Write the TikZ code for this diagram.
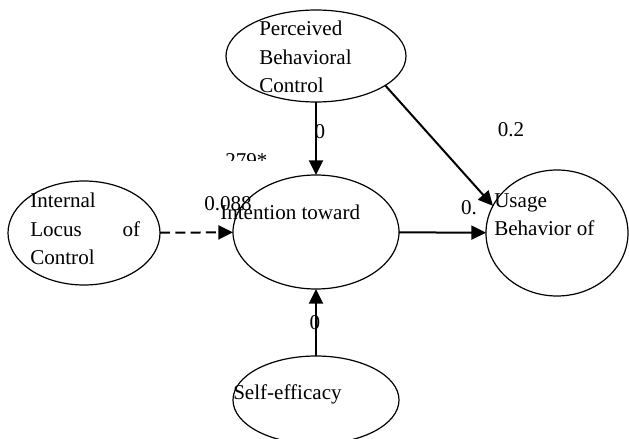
\documentclass[tikz,border=0pt]{standalone}
\usepackage{fontspec}
\setmainfont{Liberation Serif}
\usetikzlibrary{shapes.geometric,arrows.meta}
\tikzset{
  construct/.style={draw,ellipse,line width=0.9pt,inner sep=0pt,outer sep=0pt},
  label text/.style={inner sep=0pt,align=left},
  coef/.style={inner sep=0pt},
  effect/.style={line width=1.5pt,-{Triangle[length=11pt,width=10.5pt]}},
}
\begin{document}
\begin{tikzpicture}[x=0.75pt,y=-0.75pt,
    every node/.style={font=\fontsize{15.8}{21.4}\selectfont}]
  \useasboundingbox (0,0) rectangle (629,439);
  % constructs
  \node[construct,minimum width=135pt,minimum height=69pt] (pbc) at (316,56) {};
  \node[construct,minimum width=124.5pt,minimum height=85.5pt] (intent) at (316,232) {};
  \node[construct,minimum width=114pt,minimum height=78pt] (locus) at (84,233) {};
  \node[construct,minimum width=106.5pt,minimum height=94.5pt] (usage) at (557,233) {};
  \node[construct,minimum width=124.5pt,minimum height=66pt] (self) at (316,400) {};
  % their texts
  \node[label text,anchor=north west] (pbctext) at (259,21) {Perceived\\Behavioral\\Control};
  \node[label text,anchor=north west,text width=82.5pt] (locustext) at (30,193)
    {Internal\\Locus\hfill of\\Control};
  \node[label text,anchor=north west] (usagetext) at (494,193) {Usage\\Behavior of};
  \node[label text,anchor=base west] (intenttext) at (220,219) {Intention toward};
  \node[label text,anchor=base west] (selftext) at (233,399) {Self-efficacy};
  % coefficients
  \draw
    (320,132) node[coef] (c1) {0}
    (511,130) node[coef] (c2) {0.2}
    (469,208) node[coef] (c3) {0.}
    (228,204) node[coef] (c4) {0.088}
    (315,323) node[coef] (c5) {0};
  \begin{scope}
    \clip (200,140) rectangle (290,160);
    \node[coef,anchor=north west] (c6) at (225,153) {279*};
  \end{scope}
  % paths
  \begin{scope}[effect]
    \draw (pbc.south) to (intent.north);
    \draw (pbc.-23) to (usage.157);
    \draw (intent) to (usage);
    \draw[dash pattern=on 7.5pt off 4pt] (locus) to (intent);
    \draw (self) to (intent);
  \end{scope}
\end{tikzpicture}
\end{document}
